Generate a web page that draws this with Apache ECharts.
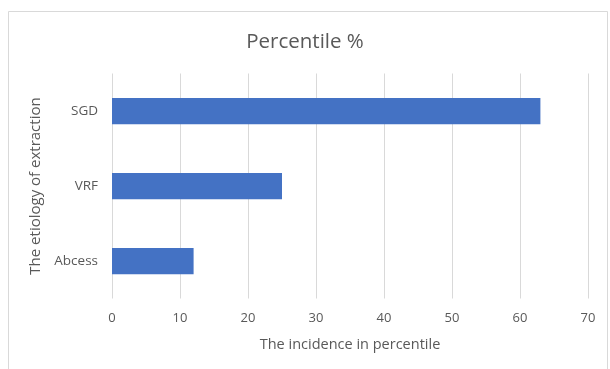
<!DOCTYPE html>
<html>
<head>
<meta charset="utf-8">
<script src="https://cdn.jsdelivr.net/npm/echarts@6/dist/echarts.min.js"></script>
<style>html,body{margin:0;padding:0;background:#fff;}#c{width:610px;height:369px;}</style>
</head>
<body>
<div id="c"></div>
<script>
const categories = ['Abcess', 'VRF', 'SGD'];
const values = [12, 25, 63];
const xTicks = { min: 0, max: 70, interval: 10 };
const titleText = 'Percentile %';
const xName = 'The incidence in percentile';
const yName = 'The etiology of extraction';

const chart = echarts.init(document.getElementById('c'), null, { renderer: 'canvas' });
const font = 'Open Sans, Noto Sans, sans-serif';
chart.setOption({
  animation: false,
  backgroundColor: '#fff',
  graphic: [{
    type: 'rect', shape: { x: 8.5, y: 11.5, width: 599, height: 370 },
    style: { fill: 'none', stroke: '#d9d9d9', lineWidth: 1 }, silent: true, z: -1
  }],
  title: {
    text: titleText, left: 'center', top: 27,
    textStyle: { fontFamily: font, fontSize: 20.5, fontWeight: 'normal', color: '#595959' }
  },
  grid: { left: 112, right: 22, top: 73.5, bottom: 70.5, containLabel: false },
  xAxis: {
    type: 'value', min: xTicks.min, max: xTicks.max, interval: xTicks.interval,
    name: xName, nameLocation: 'middle', nameGap: 39,
    nameTextStyle: { fontFamily: font, fontSize: 14.5, color: '#595959' },
    axisLine: { show: false }, axisTick: { show: false },
    axisLabel: { fontFamily: font, fontSize: 13, color: '#595959', margin: 13 },
    splitLine: { show: true, lineStyle: { color: '#d9d9d9', width: 1 } }
  },
  yAxis: {
    type: 'category', data: categories,
    name: yName, nameLocation: 'middle', nameGap: 64, nameRotate: 90,
    nameTextStyle: { fontFamily: font, fontSize: 15, color: '#595959' },
    axisLine: { show: false }, axisTick: { show: false },
    axisLabel: { fontFamily: font, fontSize: 13.5, color: '#595959', margin: 14 },
    splitLine: { show: false }
  },
  series: [{
    type: 'bar', data: values, barWidth: '35%',
    itemStyle: { color: '#4472c4' }
  }]
});
</script>
</body>
</html>
